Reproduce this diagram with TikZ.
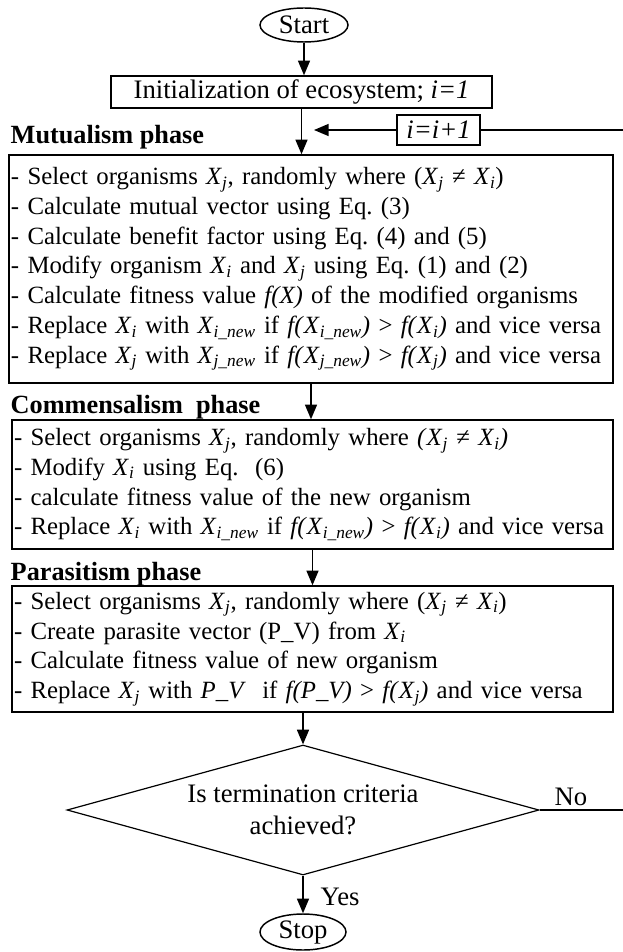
\documentclass[tikz,border=0pt]{standalone}
\usepackage{fontspec}
\setmainfont{Liberation Serif}
\usetikzlibrary{arrows.meta,shapes.geometric}
\newcommand{\Xv}[1]{\textit{X}\textsubscript{\textit{#1}}}
\frenchspacing

\begin{document}
\begin{tikzpicture}[x=0.75pt,y=-0.75pt,
  font=\fontsize{20}{24}\selectfont,
  line width=1.1pt,
  arr/.style={-{Triangle[length=11pt,width=9pt]}},
  term/.style={draw,ellipse,inner sep=0pt},
  plainbox/.style={draw,rectangle,inner sep=0pt},
  phasebox/.style={draw,rectangle,align=left,inner xsep=1.5pt,inner ysep=0pt,
    font=\fontsize{18.6}{22.3}\selectfont,
    minimum width=450.75pt,text width=447.75pt},
  head/.style={font=\fontsize{19.7}{22}\selectfont\bfseries,anchor=west,inner sep=0pt},
  test/.style={draw,diamond,aspect=3.63,inner sep=0pt,line width=0.9pt,align=center}]
\useasboundingbox (0,0) rectangle (623,952);

\node[term,minimum width=66pt,minimum height=25.5pt] (start) at (304,25) {Start};
\node[plainbox,minimum width=285.75pt,minimum height=24pt] (init) at (301.5,92) {Initialization of ecosystem; \textit{i=1}};
\node[plainbox,minimum width=62.25pt,minimum height=22.5pt] (inc) at (438.5,130) {\textit{i=i+1}};

\node[head] (mutualhead) at (10,137) {Mutualism phase};
\node[phasebox,minimum width=453pt,text width=450pt,minimum height=171pt] (mutual) at (311,269) {%
- Select organisms \Xv{j}, randomly where (\Xv{j} ≠ \Xv{i})\\
- Calculate mutual vector using Eq. (3)\\
- Calculate benefit factor using Eq. (4) and (5)\\
- Modify organism \Xv{i} and \Xv{j} using Eq. (1) and (2)\\
- Calculate fitness value \textit{f(X)} of the modified organisms\\
- Replace \Xv{i} with \Xv{i\_new} if \textit{f(}\Xv{i\_new}\textit{)} > \textit{f(}\Xv{i}\textit{)} and vice versa\\
- Replace \Xv{j} with \Xv{j\_new} if \textit{f(}\Xv{j\_new}\textit{)} > \textit{f(}\Xv{j}\textit{)} and vice versa};

\node[head] (commhead) at (10,407) {Commensalism\ \ phase};
\node[phasebox,minimum height=96.75pt] (comm) at (312.5,484.5) {%
- Select organisms \Xv{j}, randomly where \textit{(}\Xv{j} ≠ \Xv{i}\textit{)}\\
- Modify \Xv{i} using Eq.\ \ (6)\\
- calculate fitness value of the new organism\\
- Replace \Xv{i} with \Xv{i\_new} if \textit{f(}\Xv{i\_new}\textit{)} > \textit{f(}\Xv{i}\textit{)} and vice versa};

\node[head] (parahead) at (10,574) {Parasitism phase};
\node[phasebox,minimum height=94.5pt] (para) at (312.5,649) {%
- Select organisms \Xv{j}, randomly where (\Xv{j} ≠ \Xv{i})\\
- Create parasite vector (P\_V) from \Xv{i}\\
- Calculate fitness value of new organism\\
- Replace \Xv{j} with \textit{P\_V}\ \ if \textit{f(P\_V)} > \textit{f(}\Xv{j}\textit{)} and vice versa};

\node[test,minimum width=354pt,minimum height=97.5pt] (dec) at (303,810) {Is termination criteria\\achieved?};
\node[term,minimum width=64.5pt,minimum height=27pt] (stop) at (303,932) {Stop};

\node[anchor=west,inner sep=0pt] (yes) at (320,897) {Yes};
\node[inner sep=0pt] (no) at (571,797) {No};

\coordinate (inctip) at (314,130);
\coordinate (edgeA) at (623,130);
\coordinate (edgeB) at (623,810);

\draw[arr] (start.south) -- (start.south |- init.north);
\draw[arr] (init.south) -- (init.south |- mutual.north);
\draw[arr] (inc.west) -- (inctip);
\draw (edgeA) -- (inc.east);
\draw[arr] (mutual.south) -- (mutual.south |- comm.north);
\draw[arr] (comm.south) -- (comm.south |- para.north);
\draw[arr] (dec.north |- para.south) -- (dec.north);
\draw (dec.east) -- (edgeB);
\draw[arr] (dec.south) -- (stop.north);

\end{tikzpicture}
\end{document}
